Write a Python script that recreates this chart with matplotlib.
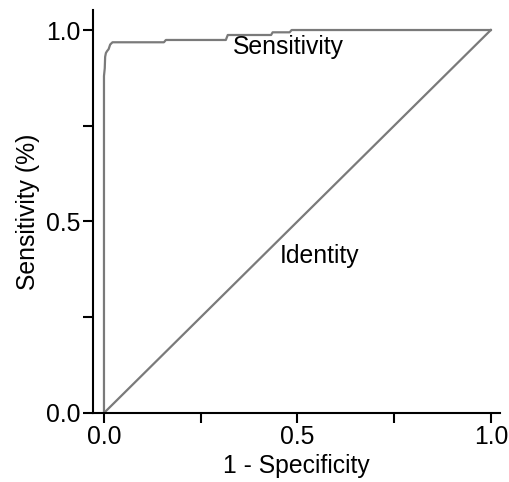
import matplotlib
matplotlib.use("Agg")
import matplotlib.pyplot as plt
from matplotlib.ticker import MultipleLocator

plt.rcParams['font.family'] = ['Liberation Sans', 'DejaVu Sans']

# ROC curve (1 - specificity, sensitivity)
fpr = [0.0, 0.0, 0.002, 0.003, 0.005, 0.008, 0.012, 0.016, 0.022,
       0.155, 0.160, 0.315, 0.320, 0.432, 0.436, 0.480, 0.485, 1.0]
tpr = [0.0, 0.88, 0.90, 0.93, 0.94, 0.945, 0.95, 0.962, 0.968,
       0.968, 0.974, 0.974, 0.987, 0.987, 0.994, 0.994, 1.0, 1.0]

# identity line
ident_x = [0.0, 1.0]
ident_y = [0.0, 1.0]

line_color = '#7a7a7a'

fig = plt.figure(figsize=(5.09, 4.82), dpi=100)
ax = fig.add_axes([0.1827, 0.1432, 0.7993, 0.836])

ax.plot(fpr, tpr, color=line_color, linewidth=1.6)
ax.plot(ident_x, ident_y, color=line_color, linewidth=1.6)

ax.text(0.478, 0.956, 'Sensitivity', fontsize=17.8, ha='center', va='center')
ax.text(0.558, 0.41, 'Identity', fontsize=17.8, ha='center', va='center')

ax.set_xlim(-0.0284, 1.0233)
ax.set_ylim(0.0, 1.0522)

ax.xaxis.set_major_locator(MultipleLocator(0.5))
ax.xaxis.set_minor_locator(MultipleLocator(0.25))
ax.yaxis.set_major_locator(MultipleLocator(0.5))
ax.yaxis.set_minor_locator(MultipleLocator(0.25))
ax.xaxis.set_major_formatter(plt.FormatStrFormatter('%.1f'))
ax.yaxis.set_major_formatter(plt.FormatStrFormatter('%.1f'))

ax.tick_params(which='both', direction='out', length=7, width=1.5,
               labelsize=17.8, pad=2)

ax.spines['top'].set_visible(False)
ax.spines['right'].set_visible(False)
ax.spines['left'].set_linewidth(1.5)
ax.spines['bottom'].set_linewidth(1.5)

ax.set_xlabel('1 - Specificity', fontsize=17.8, labelpad=3)
ax.set_ylabel('Sensitivity (%)', fontsize=17.8, labelpad=4)

fig.savefig('out.png', dpi=100)
